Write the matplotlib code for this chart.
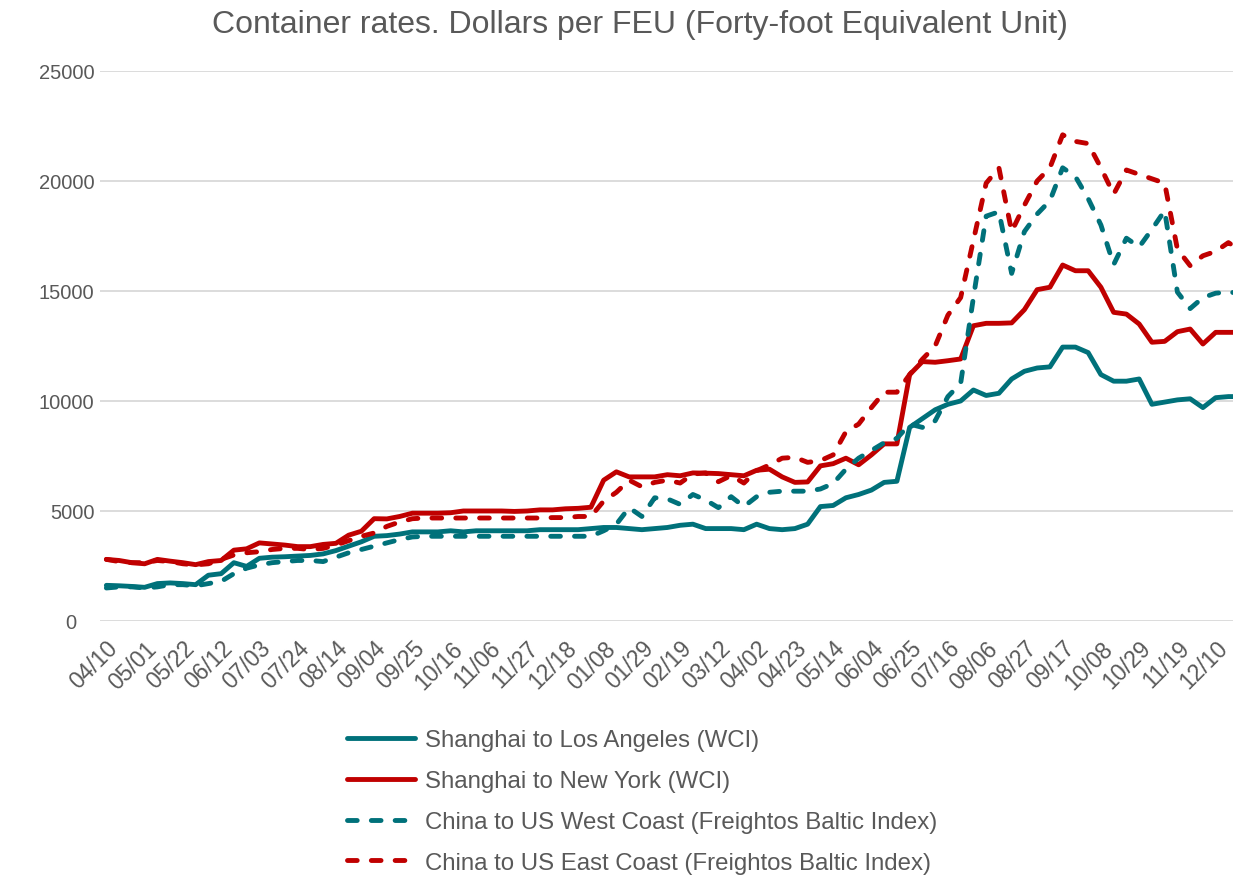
import matplotlib

matplotlib.use("Agg")
import matplotlib.pyplot as plt
from matplotlib.ticker import FuncFormatter


TITLE = "Container rates. Dollars per FEU (Forty-foot Equivalent Unit)"

# weekly observations, 04/10/2020 onwards
TICK_LABELS = [
    "04/10", "05/01", "05/22", "06/12", "07/03", "07/24", "08/14", "09/04",
    "09/25", "10/16", "11/06", "11/27", "12/18", "01/08", "01/29", "02/19",
    "03/12", "04/02", "04/23", "05/14", "06/04", "06/25", "07/16", "08/06",
    "08/27", "09/17", "10/08", "10/29", "11/19", "12/10",
]

SHANGHAI_LA = [
    1620, 1600, 1570, 1530, 1700, 1730, 1700, 1650, 2080, 2150,
    2650, 2480, 2850, 2900, 2920, 2950, 2980, 3050, 3200, 3400,
    3600, 3850, 3880, 3950, 4050, 4050, 4050, 4100, 4050, 4100,
    4100, 4100, 4100, 4100, 4150, 4150, 4150, 4150, 4200, 4250,
    4250, 4200, 4150, 4200, 4250, 4350, 4400, 4200, 4200, 4200,
    4150, 4400, 4200, 4150, 4200, 4400, 5200, 5250, 5600, 5750,
    5950, 6300, 6350, 8800, 9200, 9600, 9850, 10000, 10500, 10250,
    10350, 11000, 11350, 11500, 11550, 12450, 12450, 12200, 11200, 10900,
    10900, 11000, 9850, 9950, 10050, 10100, 9700, 10150, 10200, 10200,
]

SHANGHAI_NY = [
    2800, 2750, 2650, 2600, 2800, 2720, 2650, 2560, 2700, 2750,
    3220, 3280, 3550, 3500, 3450, 3380, 3380, 3480, 3530, 3900,
    4080, 4650, 4640, 4750, 4900, 4900, 4900, 4920, 5000, 5000,
    5000, 5000, 4980, 5000, 5050, 5050, 5100, 5120, 5170, 6400,
    6780, 6550, 6550, 6550, 6650, 6600, 6730, 6720, 6700, 6650,
    6600, 6850, 6900, 6550, 6300, 6320, 7050, 7150, 7400, 7100,
    7550, 8050, 8050, 11200, 11790, 11760, 11830, 11910, 13420, 13530,
    13530, 13550, 14150, 15060, 15170, 16180, 15920, 15920, 15170, 14030,
    13950, 13500, 12670, 12710, 13150, 13270, 12590, 13120, 13120, 13120,
]

FBX_WEST = [
    1500, 1550, 1550, 1500, 1550, 1650, 1650, 1600, 1700, 1800,
    2150, 2400, 2550, 2650, 2700, 2750, 2750, 2700, 2900, 3100,
    3250, 3400, 3550, 3700, 3820, 3850, 3850, 3850, 3850, 3850,
    3850, 3850, 3850, 3850, 3850, 3850, 3850, 3850, 3850, 4100,
    4400, 5150, 4750, 5600, 5550, 5300, 5750, 5500, 5150, 5650,
    5200, 5650, 5850, 5900, 5900, 5900, 6000, 6250, 6900, 7400,
    7750, 8100, 8300, 8950, 8800, 9100, 10200, 10800, 14700, 18400,
    18600, 15800, 17700, 18500, 19100, 20600, 20200, 19200, 18000, 16200,
    17400, 17000, 17800, 18650, 14950, 14200, 14700, 14900, 14950, 14900,
]

FBX_EAST = [
    2800, 2700, 2650, 2650, 2750, 2700, 2600, 2550, 2600, 2800,
    3000, 3100, 3150, 3250, 3300, 3300, 3250, 3300, 3450, 3650,
    3850, 4000, 4300, 4500, 4650, 4680, 4680, 4680, 4680, 4680,
    4680, 4680, 4680, 4680, 4680, 4700, 4700, 4750, 4750, 5450,
    5850, 6400, 6100, 6300, 6400, 6270, 6680, 6730, 6330, 6610,
    6270, 6830, 7090, 7400, 7440, 7210, 7290, 7550, 8600, 8950,
    9700, 10400, 10400, 11200, 11900, 12500, 13900, 14700, 17300, 19900,
    20600, 17700, 18900, 20000, 20600, 22100, 21800, 21700, 20600, 19400,
    20500, 20300, 20100, 19900, 16900, 16150, 16600, 16800, 17200, 16800,
]

SERIES = [
    ("Shanghai to Los Angeles (WCI)", SHANGHAI_LA, "teal", "solid"),
    ("Shanghai to New York (WCI)", SHANGHAI_NY, "red", "solid"),
    ("China to US West Coast (Freightos Baltic Index)", FBX_WEST, "teal", "dash"),
    ("China to US East Coast (Freightos Baltic Index)", FBX_EAST, "red", "dash"),
]

COLORS = {"teal": "#00717A", "red": "#C00000"}
TEXT_COLOR = "#595959"
GRID_COLOR = "#D9D9D9"


def y_label(value, _pos):
    # Excel's number format leaves the zero label sitting further left
    if value == 0:
        return "0   "
    return f"{value:.0f}"


def draw_chart():
    plt.rcParams["font.family"] = ["Liberation Sans", "DejaVu Sans"]

    fig = plt.figure(figsize=(12.33, 8.79), dpi=100)
    ax = fig.add_axes([0.0811, 0.2924, 0.9189, 0.6257])

    for label, values, color, style in SERIES:
        weeks = range(len(values))
        if style == "dash":
            ax.plot(weeks, values, color=COLORS[color], lw=3.5, label=label,
                    linestyle=(0, (2.0, 2.9)), dash_capstyle="round",
                    solid_joinstyle="round")
        else:
            ax.plot(weeks, values, color=COLORS[color], lw=3.5, label=label,
                    solid_capstyle="round", solid_joinstyle="round")

    ax.set_xlim(-0.5, 88.36)
    ax.set_ylim(0, 25000)
    ax.set_yticks(range(0, 25001, 5000))
    ax.yaxis.set_major_formatter(FuncFormatter(y_label))
    ax.set_xticks(range(0, 3 * len(TICK_LABELS), 3))
    ax.set_xticklabels(TICK_LABELS, rotation=45, ha="right", va="top",
                       rotation_mode="anchor")

    ax.grid(axis="y", color=GRID_COLOR, lw=1.3)
    ax.set_axisbelow(True)
    for spine in ax.spines.values():
        spine.set_visible(False)
    ax.tick_params(axis="both", length=0, labelcolor=TEXT_COLOR)
    ax.tick_params(axis="y", pad=4, labelsize=14.5)
    ax.tick_params(axis="x", pad=11, labelsize=16.5)

    fig.text(0.519, 0.972, TITLE, ha="center", va="center", fontsize=23,
             color=TEXT_COLOR)

    fig.legend(loc="upper left", bbox_to_anchor=(0.2814, 0.169), frameon=False,
               fontsize=17.3, labelcolor=TEXT_COLOR, handlelength=2.83,
               handletextpad=0.42, labelspacing=0.78, borderpad=0,
               borderaxespad=0)

    fig.savefig("out.png", dpi=100)
    plt.close(fig)


if __name__ == "__main__":
    draw_chart()
